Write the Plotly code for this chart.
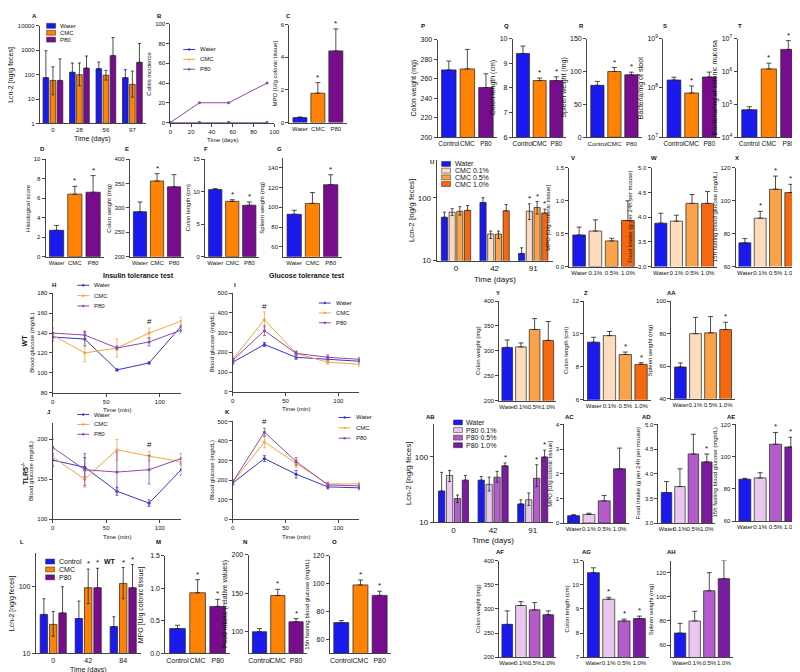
import plotly.graph_objects as go
import re

W, H = 800, 672
FONT = 'Arial, Liberation Sans, sans-serif'
INK = '#222222'

BLUE = '#1a1aee'
ORANGE = '#ff8205'
PURPLE = '#770d8c'
CMC_01, CMC_05, CMC_10 = '#fddcbd', '#faa34a', '#f4690f'
P80_01, P80_05, P80_10 = '#e9c7ee', '#b45ccc', '#7a1c9e'
L_BLUE, L_ORANGE, L_PURPLE = '#3b35c9', '#f6a53e', '#8b4ba8'

# ---------------- data ----------------
# A: Lcn-2 over time (log)
a_days = ['0', '28', '56', '97']
a_water = [75, 125, 175, 75]
a_water_err = [875, 175, 155, 85]
a_cmc = [58, 100, 95, 40]
a_cmc_err = [152, 200, 55, 100]
a_cmc_lo = [43, 65, 35, 28]
a_p80 = [58, 185, 600, 320]
a_p80_err = [382, 395, 2700, 1580]

# B: colitis incidence
b_days = [0, 28, 56, 93]
b_water = [0, 0, 0, 0]
b_cmc = [0, 0, 0, 0]
b_p80 = [0, 20, 20, 40]

groups3 = ['Water', 'CMC', 'P80']
groups3c = ['Control', 'CMC', 'P80']
groups4 = ['Water', '0.1%', '0.5%', '1.0%']

c_mpo = [0.3, 1.8, 4.4]
c_err = [0.04, 0.65, 1.35]
d_hist = [2.7, 6.4, 6.6]
d_err = [0.5, 0.8, 1.7]
e_cw = [292, 355, 343]
e_err = [20, 15, 25]
f_cl = [10.3, 8.5, 7.9]
f_err = [0.15, 0.25, 0.5]
g_sw = [93, 104, 123]
g_err = [4, 11, 10]

# H/I/J/K tolerance tests
t_min = [0, 30, 60, 90, 120]
h_water = [136, 134, 103, 110, 147]
h_water_err = [4, 7, 1, 1, 5]
h_cmc = [138, 120, 125, 140, 152]
h_cmc_err = [15, 9, 9, 5, 4]
h_p80 = [140, 138, 125, 131, 143]
h_p80_err = [5, 4, 2, 4, 3]
i_water = [150, 240, 175, 165, 155]
i_water_err = [10, 10, 10, 10, 8]
i_cmc = [165, 365, 195, 150, 140]
i_cmc_err = [15, 40, 15, 10, 10]
i_p80 = [160, 310, 195, 175, 165]
i_p80_err = [10, 25, 10, 12, 10]
j_water = [174, 165, 135, 120, 162]
j_water_err = [8, 12, 5, 4, 7]
j_cmc = [178, 150, 187, 179, 172]
j_cmc_err = [10, 10, 13, 6, 5]
j_p80 = [190, 162, 159, 162, 176]
j_p80_err = [10, 20, 25, 18, 6]
k_water = [185, 310, 230, 165, 160]
k_water_err = [10, 15, 20, 10, 10]
k_cmc = [190, 395, 285, 180, 180]
k_cmc_err = [10, 30, 20, 10, 10]
k_p80 = [190, 445, 295, 175, 170]
k_p80_err = [10, 20, 20, 10, 10]

# L: Lcn-2 (log)
l_days = ['0', '42', '84']
l_ctrl = [38, 33, 25]
l_ctrl_err = [27, 27, 10]
l_cmc = [27, 95, 110]
l_cmc_err = [15, 85, 80]
l_cmc_lo = [9, 40, 45]
l_p80 = [40, 95, 95]
l_p80_err = [58, 90, 115]

m_mpo = [0.38, 0.93, 0.72]
m_err = [0.05, 0.2, 0.11]
n_food = [100, 147, 113]
n_err = [4, 8, 4]
o_glu = [72, 99, 91.5]
o_err = [1.5, 3.5, 3]

p_cw = [269, 270, 251]
p_err = [9, 20, 14]
q_cl = [9.4, 8.3, 8.3]
q_err = [0.3, 0.1, 0.15]
r_sw = [79, 100, 95]
r_err = [6, 6, 4]
s_bac = [1.45e8, 7.9e7, 1.67e8]
s_err = [0.2e8, 3.1e7, 0.43e8]
t_bac = [6.9e4, 1.2e6, 4.7e6]
t_err = [1.6e4, 0.6e6, 4.0e6]

# U: CMC doses Lcn-2 (log)
u_days = ['0', '42', '91']
u_water = [49, 84, 13]
u_water_err = [10, 16, 3]
u_c01 = [59, 26.5, 61]
u_c01_err = [8, 3, 19]
u_c01_lo = [7, 4, 16]
u_c05 = [61, 26.5, 70]
u_c05_err = [11, 3, 17]
u_c05_lo = [8, 4, 15]
u_c10 = [63, 62, 57]
u_c10_err = [12, 16, 9]

v_mpo = [0.48, 0.54, 0.39, 0.70]
v_err = [0.12, 0.17, 0.04, 0.30]
w_food = [3.88, 3.92, 4.28, 4.28]
w_err = [0.2, 0.12, 0.18, 0.24]
x_glu = [74.4, 89.4, 107, 105]
x_err = [2.6, 4.2, 8, 5]
y_cw = [307, 308, 343, 321]
y_err = [15, 8, 22, 38]
z_cl = [9.5, 9.9, 8.75, 8.15]
z_err = [0.3, 0.25, 0.15, 0.1]
aa_sw = [59.5, 80, 80.5, 82.5]
aa_err = [2.5, 10, 10, 4.5]

# AB: P80 doses Lcn-2 (log)
ab_days = ['0', '42', '91']
ab_water = [30, 44, 19]
ab_water_err = [28, 6, 3]
ab_p01 = [52, 38, 22]
ab_p01_err = [10, 11, 6]
ab_p01_lo = [10, 8, 4]
ab_p05 = [23, 49, 47]
ab_p05_err = [3, 11, 29]
ab_p05_lo = [3, 8, 12]
ab_p10 = [44, 73, 100]
ab_p10_err = [8, 8, 27]

ac_mpo = [0.3, 0.35, 0.9, 2.2]
ac_err = [0.04, 0.05, 0.22, 0.84]
ad_food = [3.62, 3.74, 4.4, 4.24]
ad_err = [0.22, 0.36, 0.4, 0.16]
ae_glu = [86, 86.8, 107.7, 106]
ae_err = [0.5, 3.2, 7.3, 6]
af_cw = [268, 307, 298, 288]
af_err = [28, 8, 15, 8]
ag_cl = [10.5, 9.4, 8.5, 8.6]
ag_err = [0.2, 0.08, 0.08, 0.1]
ah_sw = [70, 80, 105, 115]
ah_err = [8, 8, 15, 15]

# ---------------- helpers ----------------
fig = go.Figure()
layout = {}
annos = []
shapes = []
n = 0


def X(px):
    return px / W


def Y(py):
    return 1 - py / H


def tlabel(v, fmt):
    if fmt:
        return format(v, fmt)
    return str(int(v)) if float(v).is_integer() else str(v)


def axes(box, yrange, ytitle, ytick, ytext=None, ylog=False, xrange=None,
         xtick=None, xtext=None, xtitle=None, fs=7, tfs=7, xticks='', fmt=None, xfs=None):
    global n
    n += 1
    sx = '' if n == 1 else str(n)
    x0, x1, y0, y1 = box
    common = dict(showline=True, linecolor='#444', linewidth=1, ticklen=3,
                  tickwidth=1, tickcolor='#444', showgrid=False, zeroline=False,
                  tickangle=0)
    layout['xaxis' + sx] = dict(domain=[X(x0), X(x1)], anchor='y' + sx, range=xrange,
                                ticks=xticks, tickvals=xtick, ticktext=xtext,
                                tickfont=dict(size=xfs or fs, color='#111'), **common)
    ya = dict(domain=[Y(y1), Y(y0)], anchor='x' + sx, range=yrange, ticks='outside',
              type='log' if ylog else 'linear', tickvals=ytick, ticktext=ytext,
              tickfont=dict(size=fs, color='#111'), **common)
    if fmt:
        ya['tickformat'] = fmt
    layout['yaxis' + sx] = ya
    # y title placed to the left of the tick labels
    labels = ytext if ytext else [tlabel(v, fmt) for v in ytick]
    w = max(len(re.sub('<[^>]+>', '', t)) for t in labels) * fs * 0.56
    if any('<sup>' in t for t in labels):
        w -= fs * 0.2
    annos.append(dict(xref='paper', yref='paper', x=X(x0 - 3 - 2 - w - 1),
                      y=Y((y0 + y1) / 2), text=ytitle, textangle=-90, showarrow=False,
                      xanchor='right', yanchor='middle', font=dict(size=tfs, color='#111')))
    if xtitle:
        top = y1 + fs * 1.3 + (5 if xticks else 2)
        annos.append(dict(xref='paper', yref='paper', x=X((x0 + x1) / 2),
                          y=Y(top), text=xtitle, showarrow=False,
                          xanchor='center', yanchor='top', font=dict(size=tfs, color='#111')))
    return 'x' + sx, 'y' + sx


def star(xa, ya, x, y, ylog=False, txt='*', size=8):
    annos.append(dict(xref=xa, yref=ya, x=x, y=__import__('math').log10(y) if ylog else y,
                      text=txt, showarrow=False, yanchor='bottom', yshift=-1,
                      font=dict(size=size, color='#111')))


def bar_panel(box, cats, vals, errs, colors, yrange, ytick, ytitle, stars=(),
              ytext=None, ylog=False, fs=7, tfs=7, fmt=None, xfs=None):
    xa, ya = axes(box, yrange, ytitle, ytick, ytext, ylog,
                  [-0.6, len(cats) - 0.4], list(range(len(cats))), cats, fs=fs, tfs=tfs,
                  fmt=fmt, xfs=xfs)
    fig.add_trace(go.Bar(x=list(range(len(cats))), y=vals, width=0.78,
                         marker=dict(color=colors, line=dict(color=INK, width=0.7)),
                         error_y=dict(type='data', symmetric=False, array=errs,
                                      arrayminus=[0] * len(vals), color=INK,
                                      thickness=0.8, width=2.5),
                         xaxis=xa, yaxis=ya, showlegend=False))
    for i in stars:
        star(xa, ya, i, vals[i] + errs[i], ylog)


def group_panel(box, groups, series, yrange, ytick, ytext, ytitle, stars=(),
                fs=7, tfs=7):
    m = len(series)
    step = 0.8 / m
    xa, ya = axes(box, yrange, ytitle, ytick, ytext, True, [-0.5, len(groups) - 0.5],
                  list(range(len(groups))), groups, 'Time (days)', fs, tfs)
    for k, (name, v, up, lo, col) in enumerate(series):
        xs = [g + (k - (m - 1) / 2) * step for g in range(len(groups))]
        fig.add_trace(go.Bar(x=xs, y=v, width=step * 0.8, name=name,
                             marker=dict(color=col, line=dict(color=INK, width=0.7)),
                             error_y=dict(type='data', symmetric=False, array=up,
                                          arrayminus=lo or [0] * len(v), color=INK,
                                          thickness=0.8, width=1.5),
                             xaxis=xa, yaxis=ya, showlegend=False))
        for g in stars.get(k, []):
            star(xa, ya, xs[g], v[g] + up[g], True)


def line_panel(box, xs, series, yrange, ytick, ytitle, xtitle, xrange, xtick):
    xa, ya = axes(box, yrange, ytitle, ytick, None, False, xrange, xtick, None,
                  xtitle, 6, 6, 'outside')
    for name, v, e, col in series:
        fig.add_trace(go.Scatter(x=xs, y=v, mode='lines+markers', name=name,
                                 line=dict(color=col, width=1),
                                 marker=dict(color=col, size=3),
                                 error_y=dict(type='data', array=e, color=col,
                                              thickness=0.8, width=1.5) if e else None,
                                 xaxis=xa, yaxis=ya, showlegend=False))
    return xa, ya


def legend(x, y, dy, items, kind, fs=6):
    for i, (txt, col) in enumerate(items):
        yy = y + i * dy
        if kind == 'bar':
            shapes.append(dict(type='rect', xref='paper', yref='paper', x0=X(x), x1=X(x + 9),
                               y0=Y(yy + 2.5), y1=Y(yy - 2.5), fillcolor=col,
                               line=dict(color=INK, width=0.5)))
            tx0 = x + 12
        else:
            shapes.append(dict(type='line', xref='paper', yref='paper', x0=X(x), x1=X(x + 12),
                               y0=Y(yy), y1=Y(yy), line=dict(color=col, width=1)))
            shapes.append(dict(type='circle', xref='paper', yref='paper', x0=X(x + 4.8),
                               x1=X(x + 7.2), y0=Y(yy + 1.2), y1=Y(yy - 1.2),
                               fillcolor=col, line=dict(color=col, width=0)))
            tx0 = x + 16
        annos.append(dict(xref='paper', yref='paper', x=X(tx0), y=Y(yy),
                          text=txt, showarrow=False, xanchor='left', yanchor='middle',
                          borderpad=0, font=dict(size=fs, color='#111')))


def text(x, y, t, size=7, bold=True, angle=0, anchor='left'):
    annos.append(dict(xref='paper', yref='paper', x=X(x), y=Y(y),
                      text='<b>%s</b>' % t if bold else t, showarrow=False,
                      xanchor=anchor, yanchor='middle', textangle=angle,
                      font=dict(size=size, color='#111')))


# ---------------- panels ----------------
c3 = [BLUE, ORANGE, PURPLE]
c4c = [BLUE, CMC_01, CMC_05, CMC_10]
c4p = [BLUE, P80_01, P80_05, P80_10]
logt = [1, 10, 100, 1000, 10000]

# A
group_panel((30, 137, 14, 113), a_days,
            [('Water', a_water, a_water_err, None, BLUE),
             ('CMC', a_cmc, a_cmc_err, a_cmc_lo, ORANGE),
             ('P80', a_p80, a_p80_err, None, PURPLE)],
            [0, 4], logt, [str(v) for v in logt], 'Lcn-2 [ng/g feces]', {}, 6, 7)
legend(37, 14, 7, [('Water', BLUE), ('CMC', ORANGE), ('P80', PURPLE)], 'bar')

# B
xa, ya = line_panel((162, 267, 12, 112), b_days,
                    [('CMC', b_cmc, None, L_ORANGE), ('P80', b_p80, None, L_PURPLE),
                     ('Water', b_water, None, L_BLUE)],
                    [0, 100], [0, 20, 40, 60, 80, 100], 'Colitis incidence', 'Time (days)',
                    [0, 100], [0, 20, 40, 60, 80, 100])
legend(175, 38, 10, [('Water', L_BLUE), ('CMC', L_ORANGE), ('P80', L_PURPLE)], 'line')

bar_panel((282, 340, 13, 112), groups3, c_mpo, c_err, c3, [0, 6], [0, 2, 4, 6],
          'MPO [U/g colonic tissue]', [1, 2], fs=6, tfs=6)
bar_panel((36, 95, 149, 248), groups3, d_hist, d_err, c3, [0, 10], [0, 2, 4, 6, 8, 10],
          'Histological score', [1, 2], fs=6, tfs=6)
bar_panel((121, 176, 149, 248), groups3, e_cw, e_err, c3, [200, 400],
          [200, 250, 300, 350, 400], 'Colon weight (mg)', [1], fs=6, tfs=6)
bar_panel((197, 252, 149, 248), groups3, f_cl, f_err, c3, [0, 15], [0, 5, 10, 15],
          'Colon length (cm)', [1, 2], fs=6, tfs=6)
bar_panel((276, 335, 148, 248), groups3, g_sw, g_err, c3, [50, 150],
          [60, 80, 100, 120, 140], 'Spleen weight (mg)', [2], fs=6, tfs=6)

# H I J K
xt = [0, 50, 100]
xa, ya = line_panel((43, 173, 285, 386), t_min,
                    [('Water', h_water, h_water_err, L_BLUE), ('CMC', h_cmc, h_cmc_err, L_ORANGE),
                     ('P80', h_p80, h_p80_err, L_PURPLE)],
                    [80, 180], [80, 100, 120, 140, 160, 180], 'Blood glucose (mg/dL)',
                    'Time (min)', [0, 120], xt)
star(xa, ya, 90, 146, txt='#', size=8)
legend(68, 277, 10.5, [('Water', L_BLUE), ('CMC', L_ORANGE), ('P80', L_PURPLE)], 'line')

xa, ya = line_panel((225, 353, 285, 385), t_min,
                    [('Water', i_water, i_water_err, L_BLUE), ('CMC', i_cmc, i_cmc_err, L_ORANGE),
                     ('P80', i_p80, i_p80_err, L_PURPLE)],
                    [0, 500], [0, 100, 200, 300, 400, 500], 'Blood glucose (mg/dL)',
                    'Time (min)', [0, 120], xt)
star(xa, ya, 30, 405, txt='#', size=8)
legend(312, 295, 10, [('Water', L_BLUE), ('CMC', L_ORANGE), ('P80', L_PURPLE)], 'line')

xa, ya = line_panel((43, 173, 417, 514), t_min,
                    [('Water', j_water, j_water_err, L_BLUE), ('CMC', j_cmc, j_cmc_err, L_ORANGE),
                     ('P80', j_p80, j_p80_err, L_PURPLE)],
                    [100, 220], [100, 150, 200], 'Blood glucose (mg/dL)',
                    'Time (min)', [0, 120], xt)
star(xa, ya, 90, 187, txt='#', size=8)
legend(68, 408, 10, [('Water', L_BLUE), ('CMC', L_ORANGE), ('P80', L_PURPLE)], 'line')

xa, ya = line_panel((225, 353, 415, 514), t_min,
                    [('Water', k_water, k_water_err, L_BLUE), ('CMC', k_cmc, k_cmc_err, L_ORANGE),
                     ('P80', k_p80, k_p80_err, L_PURPLE)],
                    [0, 500], [0, 100, 200, 300, 400, 500], 'Blood glucose (mg/dL)',
                    'Time (min)', [0, 120], xt)
star(xa, ya, 30, 470, txt='#', size=8)
legend(332, 411, 10.5, [('Water', L_BLUE), ('CMC', L_ORANGE), ('P80', L_PURPLE)], 'line')

text(130, 267, 'Insulin tolerance test', 7, anchor='center')
text(300, 267, 'Glucose tolerance test', 7, anchor='center')
text(15, 333, 'WT', 7, angle=-90, anchor='center')
text(15, 468, 'TLR5<sup>-/-</sup>', 7, angle=-90, anchor='center')

# L
group_panel((26, 132, 548, 650), l_days,
            [('Control', l_ctrl, l_ctrl_err, None, BLUE),
             ('CMC', l_cmc, l_cmc_err, l_cmc_lo, ORANGE),
             ('P80', l_p80, l_p80_err, None, PURPLE)],
            [1, 2.5], [10, 100], ['10', '100'], 'Lcn-2 [ng/g feces]',
            {1: [1, 2], 2: [1, 2]}, 7, 7)
legend(36, 557, 8, [('Control', BLUE), ('CMC', ORANGE), ('P80', PURPLE)], 'bar', 7)
text(93, 557, 'WT', 7)

bar_panel((157, 222, 551, 650), groups3c, m_mpo, m_err, c3, [0, 1.5], [0, 0.5, 1, 1.5],
          'MPO [U/g colonic tissue]', [1, 2], fs=7, tfs=7, fmt='.1f')
bar_panel((241, 300, 550, 650), groups3c, n_food, n_err, c3, [72, 200], [100, 150, 200],
          'Food intake (relative values)', [1, 2], fs=7, tfs=7)
bar_panel((323, 385, 551, 650), groups3c, o_glu, o_err, c3, [50, 120], [60, 80, 100, 120],
          '15h fasting blood glucose (mg/dL)', [1, 2], fs=7, tfs=6)

# P-T
bar_panel((432, 492, 28, 127), groups3c, p_cw, p_err, c3, [200, 300],
          [200, 220, 240, 260, 280, 300], 'Colon weight (mg)', fs=7, tfs=7, xfs=6.5)
bar_panel((508, 562, 27, 127), groups3c, q_cl, q_err, c3, [6, 10], [6, 7, 8, 9, 10],
          'Colon length (cm)', [1, 2], fs=7, tfs=7, xfs=6.5)
bar_panel((583, 638, 27, 127), groups3c, r_sw, r_err, c3, [0, 150], [0, 50, 100, 150],
          'Spleen weight (mg)', [1, 2], fs=7, tfs=7, xfs=6.2)
bar_panel((660, 717, 27, 127), groups3c, s_bac, s_err, c3, [7, 9], [1e7, 1e8, 1e9],
          'Bacteria/mg of stool', [1], ['10<sup>7</sup>', '10<sup>8</sup>', '10<sup>9</sup>'],
          True, fs=7, tfs=7, xfs=6.5)
bar_panel((735, 798, 27, 127), groups3c, t_bac, t_err, c3, [4, 7], [1e4, 1e5, 1e6, 1e7],
          'Bacteria/mg of colonic mucosa', [1, 2],
          ['10<sup>4</sup>', '10<sup>5</sup>', '10<sup>6</sup>', '10<sup>7</sup>'],
          True, fs=7, tfs=7, xfs=6.5)

# U
group_panel((431, 548, 150, 252), u_days,
            [('Water', u_water, u_water_err, None, BLUE),
             ('CMC 0.1%', u_c01, u_c01_err, u_c01_lo, CMC_01),
             ('CMC 0.5%', u_c05, u_c05_err, u_c05_lo, CMC_05),
             ('CMC 1.0%', u_c10, u_c10_err, None, CMC_10)],
            [1, 2.6], [10, 100], ['10', '100'], 'Lcn-2 [ng/g feces]',
            {1: [2], 2: [2], 3: [2]}, 8, 8)
legend(436, 154, 6.8, [('Water', BLUE), ('CMC 0.1%', CMC_01), ('CMC 0.5%', CMC_05),
                       ('CMC 1.0%', CMC_10)], 'bar', 7)

bar_panel((565, 634, 158, 258), groups4, v_mpo, v_err, c4c, [0, 1.5], [0, 0.5, 1, 1.5],
          'MPO [U/g colonic tissue]', fs=6, tfs=6, fmt='.1f')
bar_panel((648, 714, 158, 258), groups4, w_food, w_err, c4c, [3, 5],
          [3, 3.5, 4, 4.5, 5], 'Food intake (g per 24h per mouse)', fs=6, tfs=6, fmt='.1f')
bar_panel((733, 798, 158, 258), groups4, x_glu, x_err, c4c, [60, 120], [60, 80, 100, 120],
          '15h fasting blood glucose (mg/dL)', [1, 2, 3], fs=6, tfs=6)

bar_panel((494, 552, 293, 394), groups4, y_cw, y_err, c4c, [200, 400],
          [200, 250, 300, 350, 400], 'Colon weight (mg)', fs=6, tfs=6)
bar_panel((580, 647, 293, 393), groups4, z_cl, z_err, c4c, [6, 12], [6, 8, 10, 12],
          'Colon length (cm)', [2, 3], fs=6, tfs=6)
bar_panel((668, 732, 293, 392), groups4, aa_sw, aa_err, c4c, [40, 100], [40, 60, 80, 100],
          'Spleen weight (mg)', [3], fs=6, tfs=6)

# AB
group_panel((428, 548, 418, 517), ab_days,
            [('Water', ab_water, ab_water_err, None, BLUE),
             ('P80 0.1%', ab_p01, ab_p01_err, ab_p01_lo, P80_01),
             ('P80 0.5%', ab_p05, ab_p05_err, ab_p05_lo, P80_05),
             ('P80 1.0%', ab_p10, ab_p10_err, None, P80_10)],
            [1, 2.5], [10, 100], ['10', '100'], 'Lcn-2 [ng/g feces]',
            {2: [2], 3: [1, 2]}, 8, 8)
legend(448, 416, 7.7, [('Water', BLUE), ('P80 0.1%', P80_01), ('P80 0.5%', P80_05),
                       ('P80 1.0%', P80_10)], 'bar', 7)

bar_panel((560, 625, 418, 518), groups4, ac_mpo, ac_err, c4p, [0, 4], [0, 1, 2, 3, 4],
          'MPO [U/g colonic tissue]', fs=6, tfs=6)
bar_panel((655, 712, 418, 518), groups4, ad_food, ad_err, c4p, [3, 5],
          [3, 3.5, 4, 4.5, 5], 'Food intake (g per 24h per mouse)', [3], fs=6, tfs=6,
          fmt='.1f')
bar_panel((733, 798, 418, 516), groups4, ae_glu, ae_err, c4p, [60, 120], [60, 80, 100, 120],
          '15h fasting blood glucose (mg/dL)', [2, 3], fs=6, tfs=6)

bar_panel((494, 552, 556, 654), groups4, af_cw, af_err, c4p, [200, 400],
          [200, 250, 300, 350, 400], 'Colon weight (mg)', fs=6, tfs=6)
bar_panel((580, 645, 556, 654), groups4, ag_cl, ag_err, c4p, [7, 11], [7, 8, 9, 10, 11],
          'Colon length (cm)', [1, 2, 3], fs=6, tfs=6)
bar_panel((668, 730, 556, 654), groups4, ah_sw, ah_err, c4p, [50, 130], [60, 80, 100, 120],
          'Spleen weight (mg)', fs=6, tfs=6)

# panel letters
letters = [('A', 20, 4), ('B', 146, 4), ('C', 277, 4), ('D', 28, 139), ('E', 114, 139),
           ('F', 194, 139), ('G', 268, 139), ('H', 40, 277), ('I', 224, 277), ('J', 35, 405),
           ('K', 215, 405), ('L', 8, 537), ('M', 145, 537), ('N', 233, 537), ('O', 323, 537),
           ('P', 413, 14), ('Q', 497, 14), ('R', 573, 14), ('S', 658, 14), ('T', 733, 14),
           ('U', 422, 152), ('V', 565, 148), ('W', 645, 148), ('X', 730, 148),
           ('Y', 493, 285), ('Z', 582, 285), ('AA', 668, 285), ('AB', 425, 410),
           ('AC', 565, 410), ('AD', 643, 410), ('AE', 728, 410), ('AF', 495, 547),
           ('AG', 582, 547), ('AH', 668, 547)]
for t, x, y in letters:
    anchor = 'center' if len(t) > 1 or t in 'YZ' else 'left'
    text(x, y, t, 6, anchor=anchor)

fig.update_layout(**layout)
fig.update_layout(width=W, height=H, margin=dict(l=0, r=0, t=0, b=0),
                  plot_bgcolor='white', paper_bgcolor='white', barmode='overlay',
                  font=dict(family=FONT, size=7, color='#111'),
                  annotations=annos, shapes=shapes, showlegend=False)
fig.write_html('out.html')
